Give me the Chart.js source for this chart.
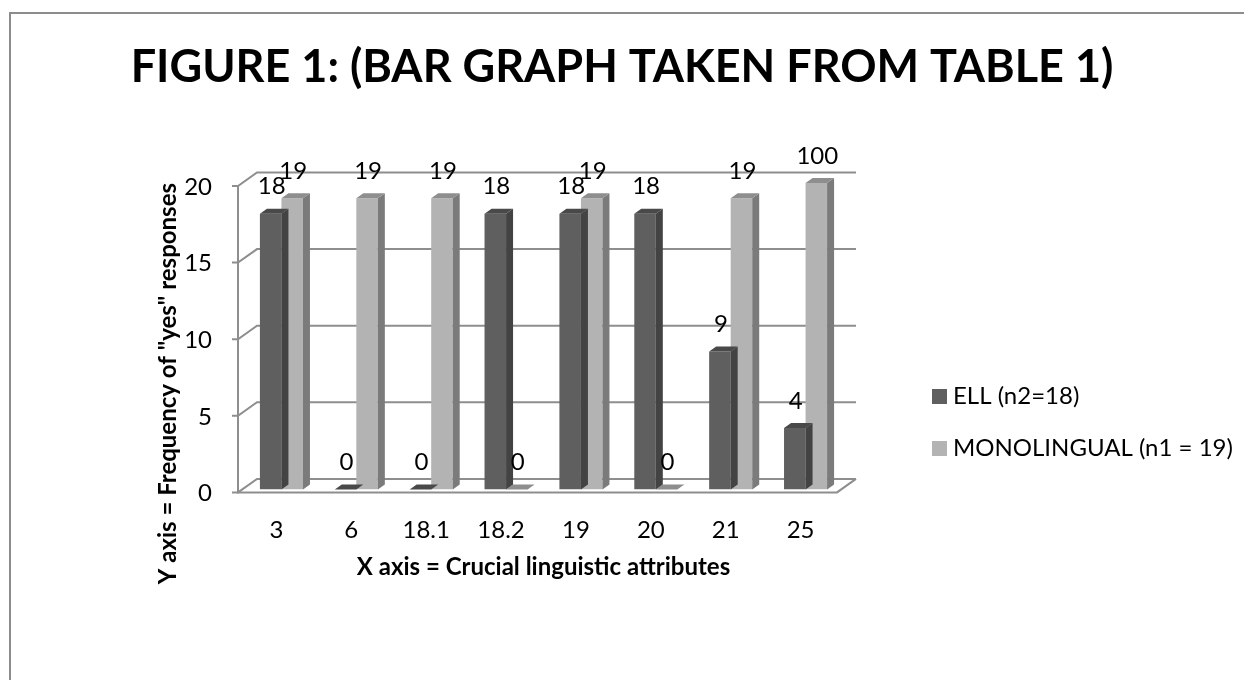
<!DOCTYPE html>
<html>
<head>
<meta charset="utf-8">
<script src="https://cdn.jsdelivr.net/npm/chart.js@4.4.1/dist/chart.umd.min.js"></script>
<style>
  html, body { margin: 0; padding: 0; background: #fff; }
  #wrap { width: 1244px; height: 680px; }
</style>
</head>
<body>
<div id="wrap"><canvas id="fig1" width="1244" height="680"></canvas></div>
<script>
const chartTitle = 'FIGURE 1: (BAR GRAPH TAKEN FROM TABLE 1)';
const xTitle = 'X axis = Crucial linguistic attributes';
const yTitle = 'Y axis = Frequency of "yes" responses';
const categories = ['3', '6', '18.1', '18.2', '19', '20', '21', '25'];
const seriesNames = ['ELL (n2=18)', 'MONOLINGUAL (n1 = 19)'];
const ellValues = [18, 0, 0, 18, 18, 18, 9, 4];
const monoValues = [19, 19, 19, 0, 19, 0, 19, 100];
const yTicks = [0, 5, 10, 15, 20];

const FONT = 'Lato, "Liberation Sans", sans-serif';
// 3d look: bars sit in a middle plane, axis in front, gridlines on the back wall
const FRONT = { dx: -6, dy: 3 };
const BACK = { dx: 13, dy: -10.5 };
const DEPTH = { dx: 7, dy: -5 };
const faces = [
  { front: '#5f5f5f', side: '#434343', top: '#494949' },
  { front: '#b3b3b3', side: '#7b7b7b', top: '#8e8e8e' }
];

const frame3d = {
  id: 'frame3d',
  beforeDraw(chart) {
    const ctx = chart.ctx;
    ctx.save();
    ctx.strokeStyle = '#8c8c8c';
    ctx.lineWidth = 2;
    ctx.strokeRect(10, 13, 1400, 900);
    ctx.restore();
  },
  beforeDatasetsDraw(chart) {
    const { ctx, chartArea: a, scales: { y } } = chart;
    ctx.save();
    ctx.strokeStyle = '#8e8e8e';
    ctx.lineWidth = 2;
    y.ticks.forEach(t => {
      const py = y.getPixelForValue(t.value);
      ctx.beginPath();
      ctx.moveTo(a.left + FRONT.dx - 6, py + FRONT.dy);
      ctx.lineTo(a.left + FRONT.dx, py + FRONT.dy);
      ctx.lineTo(a.left + BACK.dx, py + BACK.dy);
      ctx.lineTo(a.right + BACK.dx, py + BACK.dy);
      ctx.stroke();
    });
    ctx.beginPath();
    ctx.moveTo(a.left + FRONT.dx, a.top + FRONT.dy);
    ctx.lineTo(a.left + FRONT.dx, a.bottom + FRONT.dy);
    ctx.lineTo(a.right + FRONT.dx, a.bottom + FRONT.dy);
    ctx.lineTo(a.right + BACK.dx, a.bottom + BACK.dy);
    ctx.stroke();
    ctx.restore();
  },
  afterDatasetDraw(chart, args) {
    const { ctx, chartArea: a } = chart;
    const style = faces[args.index];
    ctx.save();
    args.meta.data.forEach(bar => {
      const { x, y, width, base } = bar.getProps(['x', 'y', 'width', 'base'], true);
      const top = Math.max(Math.min(y, base), a.top);
      const l = x - width / 2, r = x + width / 2;
      ctx.fillStyle = style.side;
      ctx.beginPath();
      ctx.moveTo(r, base);
      ctx.lineTo(r + DEPTH.dx, base + DEPTH.dy);
      ctx.lineTo(r + DEPTH.dx, top + DEPTH.dy);
      ctx.lineTo(r, top);
      ctx.closePath();
      ctx.fill();
      ctx.fillStyle = style.top;
      ctx.beginPath();
      ctx.moveTo(l, top);
      ctx.lineTo(r, top);
      ctx.lineTo(r + DEPTH.dx, top + DEPTH.dy);
      ctx.lineTo(l + DEPTH.dx, top + DEPTH.dy);
      ctx.closePath();
      ctx.fill();
    });
    ctx.restore();
  },
  afterDatasetsDraw(chart) {
    const { ctx, chartArea: a } = chart;
    ctx.save();
    ctx.font = '24px ' + FONT;
    ctx.fillStyle = '#000';
    ctx.textAlign = 'center';
    ctx.textBaseline = 'middle';
    chart.data.datasets.forEach((ds, i) => {
      chart.getDatasetMeta(i).data.forEach((bar, j) => {
        const top = Math.max(bar.y, a.top);
        ctx.fillText(String(ds.data[j]), bar.x + 1, top - 27);
      });
    });
    // legend
    ctx.textAlign = 'left';
    chart.data.datasets.forEach((ds, i) => {
      const cy = 396 + i * 52;
      ctx.fillStyle = ds.backgroundColor;
      ctx.fillRect(932, cy - 7, 15, 15);
      ctx.fillStyle = '#000';
      ctx.fillText(ds.label, 953, cy);
    });
    ctx.restore();
  }
};

new Chart(document.getElementById('fig1'), {
  type: 'bar',
  data: {
    labels: categories,
    datasets: [
      { label: seriesNames[0], data: ellValues, backgroundColor: faces[0].front, clip: 0 },
      { label: seriesNames[1], data: monoValues, backgroundColor: faces[1].front, clip: 0 }
    ]
  },
  options: {
    responsive: false,
    animation: false,
    devicePixelRatio: 1,
    layout: { padding: { top: 0, left: 0, right: 0, bottom: 98 } },
    datasets: { bar: { categoryPercentage: 0.575, barPercentage: 1 } },
    plugins: {
      legend: { display: false },
      tooltip: { enabled: false },
      title: {
        display: true, text: chartTitle, color: '#000',
        font: { family: FONT, size: 45, weight: 'bold', lineHeight: 1.2 },
        padding: { top: 40, bottom: 89 }
      }
    },
    scales: {
      x: {
        grid: { display: false, drawTicks: false },
        border: { display: false },
        ticks: { color: '#000', font: { family: FONT, size: 24 }, padding: 26, labelOffset: -5 },
        title: {
          display: true, text: xTitle, color: '#000',
          font: { family: FONT, size: 24, weight: 'bold' }, padding: { top: 9, bottom: 0 }
        },
        afterFit: s => { s.height = 92.6; }
      },
      y: {
        min: 0, max: 20,
        grid: { display: false, drawTicks: false },
        border: { display: false },
        afterBuildTicks: s => { s.ticks = yTicks.map(v => ({ value: v })); },
        ticks: { color: '#000', font: { family: FONT, size: 24 }, padding: 32, labelOffset: 4 },
        title: {
          display: true, text: yTitle, align: 'end', color: '#000',
          font: { family: FONT, size: 24, weight: 'bold' }, padding: { top: 154, bottom: 0 }
        },
        afterFit: s => { s.width = 244; }
      },
      // empty right-hand box that leaves room for the legend
      side: {
        type: 'linear', position: 'right',
        grid: { display: false, drawTicks: false },
        border: { display: false },
        ticks: { display: false },
        afterFit: s => { s.width = 401; }
      }
    }
  },
  plugins: [frame3d]
});
</script>
</body>
</html>
